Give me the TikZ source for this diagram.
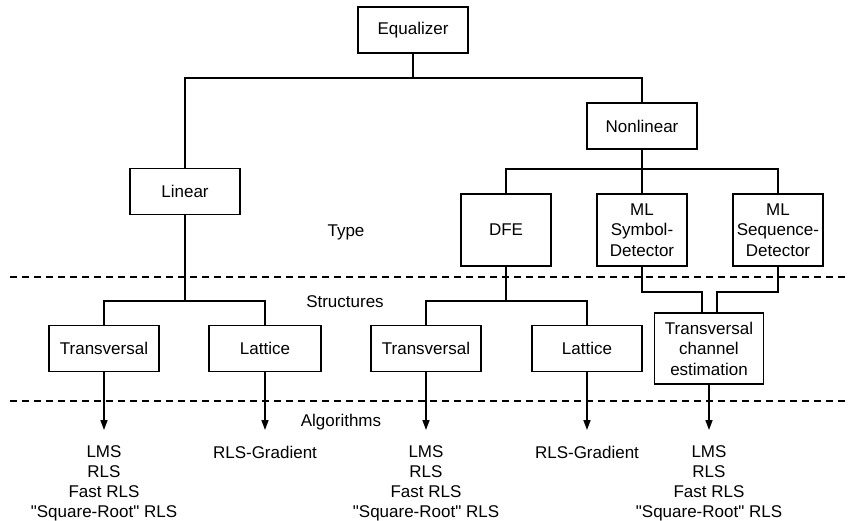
\documentclass[tikz,border=0pt]{standalone}
\usepackage{fontspec}
\setmainfont{Liberation Sans}[Ligatures=TeXOff]
\usetikzlibrary{arrows.meta}

\begin{document}
\begin{tikzpicture}[x=1pt,y=-1pt,line width=1.6pt,
  every node/.style={font=\fontsize{17}{20.5}\selectfont,inner sep=0pt,align=center},
  box/.style={draw,minimum width=110pt,minimum height=46pt},
  tallbox/.style={draw,minimum width=90pt,minimum height=72pt},
  alglist/.style={anchor=north,font=\fontsize{17}{20}\selectfont},
  sep/.style={line width=1.2pt,dash pattern=on 7pt off 5pt},
  arr/.style={-{Triangle[length=10pt,width=7pt]}}]
\useasboundingbox (0,0) rectangle (849,520);

\node[box] (eq) at (413,30) {Equalizer};
\node[box] (nonlin) at (642,126) {Nonlinear};
\node[box] (lin) at (185,191.5) {Linear};
\node[tallbox] (dfe) at (506,230) {DFE};
\node[tallbox] (mlsym) at (642,230) {ML\\Symbol-\\Detector};
\node[tallbox] (mlseq) at (778,230) {ML\\Sequence-\\Detector};
\node[box] (tr1) at (104,348.5) {Transversal};
\node[box,minimum width=112pt] (lat1) at (265,348.5) {Lattice};
\node[box] (tr2) at (426,348.5) {Transversal};
\node[box] (lat2) at (587,348.5) {Lattice};
\node[draw,minimum width=109pt,minimum height=71pt] (tce) at (709,348.5) {Transversal\\channel\\estimation};

\node (type) at (346,232) {Type};
\node (struct) at (345,302) {Structures};
\node (algo) at (341,422) {Algorithms};

\node[alglist] (alg1) at (104,445) {LMS\\RLS\\Fast RLS\\"Square-Root" RLS};
\node[alglist] (alg2) at (265,445) {RLS-Gradient};
\node[alglist] (alg3) at (426,445) {LMS\\RLS\\Fast RLS\\"Square-Root" RLS};
\node[alglist] (alg4) at (587,445) {RLS-Gradient};
\node[alglist] (alg5) at (709,445) {LMS\\RLS\\Fast RLS\\"Square-Root" RLS};

% tree
\coordinate (j1) at (413,78);
\coordinate (j2) at (642,169);
\coordinate (j3) at (185,301);
\coordinate (j4) at (506,301);
\draw (eq) -- (j1);
\draw (lin.north) |- (j1) -| (nonlin.north);
\draw (nonlin) -- (j2);
\draw (dfe.north) |- (j2) -| (mlseq.north);
\draw (j2) -- (mlsym);
\draw (lin) -- (j3);
\draw (tr1.north) |- (j3) -| (lat1.north);
\draw (dfe) -- (j4);
\draw (tr2.north) |- (j4) -| (lat2.north);
\draw (mlsym.south) -- ++(0,25) -| ([xshift=-7pt]tce.north);
\draw (mlseq.south) -- ++(0,25) -| ([xshift=8pt]tce.north);

% levels
\draw[sep] (10,277) -- (849,277);
\draw[sep] (10,401) -- (849,401);

\draw[arr] (tr1) -- ([yshift=15pt]alg1.north);
\draw[arr] (lat1) -- ([yshift=15pt]alg2.north);
\draw[arr] (tr2) -- ([yshift=15pt]alg3.north);
\draw[arr] (lat2) -- ([yshift=15pt]alg4.north);
\draw[arr] (tce) -- ([yshift=15pt]alg5.north);
\end{tikzpicture}
\end{document}
